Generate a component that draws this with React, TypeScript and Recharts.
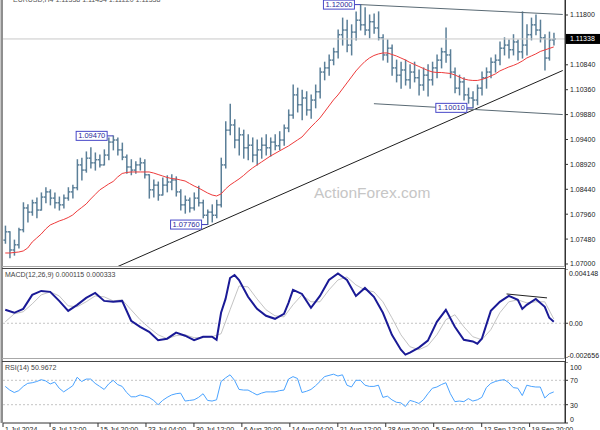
import React from "react";
import { ComposedChart, Bar, Line, XAxis, YAxis, ReferenceLine, ReferenceDot } from "recharts";

const FONT = '"Liberation Sans", Arial, sans-serif';

// ---- price bars (each bar = 12h, Jul 1 .. Sep 23 2024), EUR/USD ----
const OPEN = [
  1.0746, 1.0762, 1.0727, 1.0737, 1.0766, 1.0808, 1.08, 1.0818, 1.0804, 1.0829,
  1.0839, 1.0827, 1.0818, 1.0814, 1.0827, 1.0839, 1.0847, 1.0891, 1.0881, 1.0904,
  1.0895, 1.0901, 1.0891, 1.091, 1.0935, 1.0939, 1.092, 1.0906, 1.0887, 1.0881,
  1.0891, 1.0895, 1.0872, 1.0843, 1.0852, 1.0833, 1.0852, 1.0858, 1.0862, 1.0839,
  1.0814, 1.0823, 1.0808, 1.0827, 1.0818, 1.0794, 1.08, 1.0794, 1.0814, 1.0891,
  1.0958, 1.0968, 1.0939, 1.0949, 1.0924, 1.0929, 1.091, 1.092, 1.0929, 1.0924,
  1.0935, 1.0928, 1.0939, 1.0962, 1.0987, 1.1026, 1.1007, 1.102, 1.0997, 1.1016,
  1.1032, 1.107, 1.1078, 1.1093, 1.1109, 1.1142, 1.1151, 1.1122, 1.1147, 1.117,
  1.1161, 1.1151, 1.1167, 1.1155, 1.1136, 1.1103, 1.1116, 1.1078, 1.1064, 1.1074,
  1.1055, 1.107, 1.1059, 1.1045, 1.1064, 1.1055, 1.1078, 1.1093, 1.1109, 1.1103,
  1.107, 1.1039, 1.1051, 1.1026, 1.102, 1.1016, 1.1039, 1.1059, 1.107, 1.1089,
  1.1093, 1.1116, 1.1122, 1.1113, 1.1128, 1.1109, 1.1122, 1.1142, 1.1161, 1.1151,
  1.1136, 1.1097, 1.1132,
];
const HIGH = [
  1.0773, 1.0762, 1.0746, 1.0769, 1.0818, 1.0814, 1.0823, 1.0827, 1.0837, 1.0847,
  1.0843, 1.0837, 1.0829, 1.0833, 1.0847, 1.0852, 1.0901, 1.0904, 1.0916, 1.0924,
  1.0914, 1.091, 1.092, 1.0943, 1.0947, 1.0943, 1.0933, 1.091, 1.0901, 1.0897,
  1.0904, 1.0901, 1.0872, 1.0862, 1.0858, 1.0866, 1.087, 1.0872, 1.0868, 1.0843,
  1.0831, 1.0827, 1.0837, 1.085, 1.0823, 1.0804, 1.0814, 1.0823, 1.0904, 1.0974,
  1.1008, 1.0978, 1.0962, 1.0958, 1.0949, 1.0943, 1.0939, 1.0943, 1.0949, 1.0943,
  1.0949, 1.0955, 1.0968, 1.0997, 1.1045, 1.1039, 1.1035, 1.1032, 1.1026, 1.1045,
  1.1078, 1.1089, 1.1103, 1.1116, 1.1151, 1.1174, 1.117, 1.1161, 1.1186, 1.12,
  1.1194, 1.118, 1.1182, 1.1186, 1.1142, 1.1132, 1.1122, 1.1093, 1.1089, 1.1093,
  1.1084, 1.1089, 1.1074, 1.1078, 1.1084, 1.1089, 1.1103, 1.1116, 1.1155, 1.1113,
  1.1078, 1.1064, 1.1059, 1.1039, 1.1032, 1.1045, 1.107, 1.1078, 1.1097, 1.1103,
  1.1128, 1.1136, 1.1132, 1.1142, 1.1132, 1.1186, 1.1161, 1.1174, 1.118, 1.117,
  1.1142, 1.1147, 1.1145,
];
const LOW = [
  1.074, 1.0712, 1.0717, 1.0731, 1.0762, 1.0781, 1.0794, 1.0789, 1.0804, 1.0818,
  1.0814, 1.0808, 1.0804, 1.0808, 1.0823, 1.0827, 1.0843, 1.0862, 1.0877, 1.0885,
  1.0881, 1.0887, 1.0891, 1.0901, 1.092, 1.091, 1.0901, 1.0875, 1.0872, 1.0875,
  1.0881, 1.0866, 1.0827, 1.0829, 1.0823, 1.0833, 1.0839, 1.0843, 1.0831, 1.0804,
  1.0798, 1.08, 1.0804, 1.0812, 1.0789, 1.0776, 1.0781, 1.0789, 1.081, 1.0885,
  1.0949, 1.0924, 1.091, 1.0904, 1.0901, 1.0897, 1.0891, 1.0904, 1.091, 1.0908,
  1.092, 1.092, 1.0929, 1.0955, 1.0981, 1.0993, 1.0978, 1.0987, 1.0981, 1.1001,
  1.102, 1.1055, 1.1064, 1.1084, 1.1097, 1.1122, 1.1109, 1.1103, 1.1132, 1.1151,
  1.1142, 1.1136, 1.1145, 1.1132, 1.1093, 1.1089, 1.1064, 1.1051, 1.1039, 1.1045,
  1.1039, 1.1051, 1.1026, 1.1035, 1.1024, 1.1045, 1.1059, 1.1078, 1.1089, 1.1059,
  1.103, 1.1026, 1.1016, 1.101, 1.1001, 1.1007, 1.1026, 1.1039, 1.1059, 1.107,
  1.1084, 1.1103, 1.1097, 1.1103, 1.1093, 1.1097, 1.1103, 1.1132, 1.1142, 1.1128,
  1.1074, 1.1093, 1.1122,
];
const CLOSE = [
  1.0762, 1.0727, 1.0737, 1.0766, 1.0808, 1.08, 1.0818, 1.0804, 1.0829, 1.0839,
  1.0827, 1.0818, 1.0814, 1.0827, 1.0839, 1.0847, 1.0891, 1.0881, 1.0904, 1.0895,
  1.0901, 1.0891, 1.091, 1.0935, 1.0939, 1.092, 1.0906, 1.0887, 1.0881, 1.0891,
  1.0895, 1.0872, 1.0843, 1.0852, 1.0833, 1.0852, 1.0858, 1.0862, 1.0839, 1.0814,
  1.0823, 1.0808, 1.0827, 1.0818, 1.0794, 1.08, 1.0794, 1.0814, 1.0891, 1.0958,
  1.0968, 1.0939, 1.0949, 1.0924, 1.0929, 1.091, 1.092, 1.0929, 1.0924, 1.0935,
  1.0928, 1.0939, 1.0962, 1.0987, 1.1026, 1.1007, 1.102, 1.0997, 1.1016, 1.1032,
  1.107, 1.1078, 1.1093, 1.1109, 1.1142, 1.1151, 1.1122, 1.1147, 1.117, 1.1161,
  1.1151, 1.1167, 1.1155, 1.1136, 1.1103, 1.1116, 1.1078, 1.1064, 1.1074, 1.1055,
  1.107, 1.1059, 1.1045, 1.1064, 1.1055, 1.1078, 1.1093, 1.1109, 1.1103, 1.107,
  1.1039, 1.1051, 1.1026, 1.102, 1.1016, 1.1039, 1.1059, 1.107, 1.1089, 1.1093,
  1.1116, 1.1122, 1.1113, 1.1128, 1.1109, 1.1122, 1.1142, 1.1161, 1.1151, 1.1136,
  1.1097, 1.1132, 1.11338,
];
const MA = [
  1.07212, 1.07212, 1.07222, 1.07231, 1.07251, 1.07308, 1.07424, 1.07501, 1.07578, 1.07675,
  1.07752, 1.0779, 1.07829, 1.07858, 1.07896, 1.07945, 1.08022, 1.08089, 1.08157, 1.08253,
  1.0834, 1.08427, 1.08484, 1.08542, 1.08591, 1.08677, 1.08745, 1.08764, 1.08774, 1.08774,
  1.08774, 1.08774, 1.08774, 1.08754, 1.08725, 1.08697, 1.08668, 1.08648, 1.08639, 1.08619,
  1.086, 1.08552, 1.08504, 1.08465, 1.08417, 1.08369, 1.0833, 1.08311, 1.0835, 1.08446,
  1.08523, 1.08581, 1.08639, 1.08706, 1.08783, 1.08851, 1.08909, 1.08966, 1.09024, 1.09082,
  1.0913, 1.09179, 1.09227, 1.09275, 1.09333, 1.09391, 1.09448, 1.09545, 1.09641, 1.09728,
  1.09815, 1.0993, 1.10046, 1.10162, 1.10258, 1.10374, 1.1049, 1.10605, 1.10721, 1.10817,
  1.10904, 1.10971, 1.11019, 1.11049, 1.11068, 1.11068, 1.11039, 1.1101, 1.10971, 1.10933,
  1.10885, 1.10846, 1.10808, 1.10769, 1.10731, 1.10702, 1.10692, 1.10692, 1.10682, 1.10673,
  1.10644, 1.10605, 1.10567, 1.10547, 1.10538, 1.10538, 1.10557, 1.10586, 1.10625, 1.10663,
  1.10721, 1.1076, 1.10798, 1.10827, 1.10865, 1.10913, 1.10971, 1.1101, 1.11049, 1.11097,
  1.11126, 1.11155, 1.11184,
];
const RSI = [
  60, 54, 50, 53, 60, 65, 66, 68, 71, 69,
  64, 67, 57, 51, 56, 61, 75, 68, 72, 72,
  65, 60, 55, 64, 70, 63, 60, 50, 43, 43,
  46, 44, 42, 37, 30, 37, 42, 46, 48, 49,
  36, 37, 38, 42, 48, 37, 36, 38, 68, 74,
  79, 70, 55, 54, 54, 50, 46, 49, 51, 51,
  51, 53, 54, 72, 76, 73, 50, 52, 55, 61,
  68, 76, 78, 80, 77, 79, 62, 59, 70, 70,
  62, 60, 60, 62, 42, 44, 38, 34, 33, 27,
  37, 35, 32, 38, 48, 57, 59, 63, 66, 48,
  35, 36, 35, 40, 36, 38, 42, 58, 65, 68,
  70, 71, 66, 58, 57, 45, 62, 60, 59, 59,
  41, 48, 50.9672,
];
const MACD_IDX = [
  0, 2, 4, 6, 8, 10, 12, 14, 16, 18, 20, 22, 24, 26, 28, 30, 32, 34, 36, 38, 40, 42, 44, 46,
  47, 48, 49, 50, 51, 52, 54, 56, 58, 60, 62, 63, 64, 66, 68, 70, 72, 74, 76, 78, 80, 82, 84,
  86, 88, 89, 90, 92, 94, 96, 98, 100, 102, 104, 105, 106, 108, 110, 112, 114, 115, 116, 118,
  120, 121, 122,
];
const MACD_VAL = [
  0.00103, 0.0008, 0.0011, 0.00217, 0.00247, 0.0024, 0.00171, 0.00095, 0.00141, 0.00194,
  0.00232, 0.00171, 0.00164, 0.00171, 0.00019, -0.00027, -0.00065, -0.00129, -0.00118, -0.00072,
  -0.00095, -0.00129, -0.00103, -0.00103, -0.00126, 0.0008, 0.00186, 0.00346, 0.00369, 0.00331,
  0.00202, 0.0011, 0.00057, 0.00034, 0.00072, 0.00156, 0.00255, 0.00224, 0.00118, 0.00209,
  0.00331, 0.00381, 0.00331, 0.00209, 0.0027, 0.00202, 0.0008, -0.00088, -0.00202, -0.0024,
  -0.00224, -0.00186, -0.00133, 0.00011, 0.00103, -0.00027, -0.00126, -0.00139, -0.00156, -0.00118,
  0.00095, 0.00164, 0.00209, 0.00179, 0.0011, 0.00141, 0.00186, 0.00126, 0.00042, 0.000115,
];
const SIGNAL_IDX = [
  0, 2, 4, 6, 8, 10, 12, 14, 16, 18, 20, 22, 24, 26, 28, 30, 32, 34, 36, 38, 40, 42, 44, 46,
  48, 50, 52, 54, 56, 58, 60, 62, 64, 66, 68, 70, 72, 74, 76, 78, 80, 82, 84, 86, 88, 90, 92,
  94, 96, 98, 100, 102, 104, 106, 108, 110, 112, 114, 116, 118, 120, 122,
];
const SIGNAL_VAL = [
  0.00011, 0.00072, 0.00088, 0.00148, 0.00217, 0.0024, 0.00209, 0.00133, 0.00126, 0.00164,
  0.00209, 0.00202, 0.00171, 0.00179, 0.00103, 0.00027, -0.00034, -0.00088, -0.00118, -0.00095,
  -0.00088, -0.0011, -0.0011, -0.00103, -0.0008, 0.00103, 0.00285, 0.00278, 0.00186, 0.00103,
  0.00057, 0.00049, 0.00141, 0.00217, 0.00164, 0.00164, 0.00255, 0.00331, 0.00354, 0.00293,
  0.00255, 0.0024, 0.00164, 0.00042, -0.00088, -0.00179, -0.00202, -0.00171, -0.00088, 0.00027,
  0.00065, -0.00027, -0.00103, -0.00126, -0.00049, 0.0008, 0.00164, 0.00179, 0.00156, 0.00164,
  0.00164, 0.000333,
];

const TIME_TICK_POS = [-0.5, 9.97, 20.63, 31.3, 41.97, 52.63, 63.3, 73.97, 84.63, 95.3, 105.97, 116.63];
const TIME_TICK_LABELS = [
  "1 Jul 2024", "8 Jul 12:00", "15 Jul 20:00", "23 Jul 04:00", "30 Jul 12:00", "6 Aug 20:00",
  "14 Aug 04:00", "21 Aug 12:00", "28 Aug 20:00", "5 Sep 04:00", "12 Sep 12:00", "19 Sep 20:00",
];
const PRICE_TICKS = [1.07, 1.0748, 1.0796, 1.0844, 1.0892, 1.094, 1.0988, 1.1036, 1.1084, 1.118];
const PRICE_DOMAIN = [1.06942, 1.12089];
const CURRENT_PRICE = 1.11338;
const SWINGS = [
  { i: 24, price: 1.0947 },
  { i: 45, price: 1.0776 },
  { i: 79, price: 1.12 },
  { i: 104, price: 1.1001 },
];
const TRENDLINES = [
  { x1: 25, y1: 1.0695, x2: 124, y2: 1.1073, color: "#1e1e1e" },
  { x1: 79, y1: 1.12, x2: 124, y2: 1.1181, color: "#5a6a74" },
  { x1: 82, y1: 1.1009, x2: 124, y2: 1.0988, color: "#5a6a74" },
];
const MACD_DOMAIN = [-0.002656, 0.004148];
const MACD_TICKS = [0.004148, 0, -0.002656];
const MACD_TRENDLINE = { x1: 111.5, y1: 0.00224, x2: 120.5, y2: 0.00194 };
const RSI_TICKS = [0, 30, 70, 100];
const PAD_BARS = 2;
const X_DOMAIN = [-0.5, OPEN.length + PAD_BARS - 0.5];

const BAR_COLOR = "#5b7f98";

const priceData = [
  ...OPEN.map((o, i) => ({
    i,
    open: o,
    high: HIGH[i],
    low: LOW[i],
    close: CLOSE[i],
    hl: [LOW[i], HIGH[i]],
    ma: MA[i],
  })),
  ...Array.from({ length: PAD_BARS }, (_, k) => ({ i: OPEN.length + k })),
];

const macdMap = new Map<number, any>();
MACD_IDX.forEach((x, k) => macdMap.set(x, { ...(macdMap.get(x) || { i: x }), macd: MACD_VAL[k] }));
SIGNAL_IDX.forEach((x, k) => macdMap.set(x, { ...(macdMap.get(x) || { i: x }), signal: SIGNAL_VAL[k] }));
const macdData = Array.from(macdMap.values()).sort((a, b) => a.i - b.i);

const rsiData = RSI.map((v, i) => ({ i, rsi: v }));

const OhlcShape = (props: any) => {
  const { x, y, width, height, payload } = props;
  if (!payload || payload.high == null || !isFinite(y) || !isFinite(height)) return null;
  const top = Math.min(y, y + height);
  const h = Math.abs(height);
  const cx = x + width / 2;
  const range = payload.high - payload.low;
  const yo = range > 0 ? top + ((payload.high - payload.open) / range) * h : top;
  const yc = range > 0 ? top + ((payload.high - payload.close) / range) * h : top;
  return (
    <g stroke={BAR_COLOR} strokeWidth={1.5}>
      <line x1={cx} y1={top - 0.5} x2={cx} y2={top + h + 0.5} />
      <line x1={cx - 2} y1={yo} x2={cx} y2={yo} />
      <line x1={cx} y1={yc} x2={cx + 2} y2={yc} />
    </g>
  );
};

const PriceTick = (props: any) => {
  const { x, y, payload } = props;
  return (
    <text x={x} y={y} dy={2.5} fontSize={7} fill="#222" fontFamily={FONT} textAnchor="start">
      {Number(payload.value).toFixed(5)}
    </text>
  );
};

const MacdTick = (props: any) => {
  const { x, y, payload } = props;
  const v = payload.value;
  const dy = v === MACD_TICKS[0] ? 6.5 : v === MACD_TICKS[2] ? -0.5 : 2.5;
  const dx = v < 0 ? -2.5 : -1;
  const txt = v === 0 ? "0.00" : String(v);
  return (
    <text x={x + dx} y={y} dy={dy} fontSize={7} fill="#222" fontFamily={FONT} textAnchor="start">
      {txt}
    </text>
  );
};

const RsiTick = (props: any) => {
  const { x, y, payload } = props;
  const v = payload.value;
  const dy = v === 100 ? 7.5 : v === 0 ? -1.5 : 2.8;
  return (
    <text x={x} y={y} dy={dy} fontSize={7} fill="#222" fontFamily={FONT} textAnchor="start">
      {v}
    </text>
  );
};

const TimeTick = (props: any) => {
  const { x, y, payload } = props;
  const k = TIME_TICK_POS.indexOf(payload.value);
  return (
    <text x={x + 2} y={y + 5} fontSize={7} fill="#222" fontFamily={FONT} textAnchor="start">
      {TIME_TICK_LABELS[k]}
    </text>
  );
};

const CurrentPriceLabel = (props: any) => {
  const vb = props.viewBox || {};
  const right = (vb.x || 0) + (vb.width || 0);
  const y = vb.y || 0;
  return (
    <g>
      <rect x={right + 1} y={y - 5} width={34} height={10} fill="#000" />
      <text x={right + 5} y={y + 2.5} fill="#fff" fontSize={7} fontFamily={FONT}>
        {CURRENT_PRICE.toFixed(5)}
      </text>
    </g>
  );
};

const swingShape = (price: number) => (p: any) => {
  const { cx, cy } = p;
  if (!isFinite(cx) || !isFinite(cy)) return null;
  const right = cx - 6;
  const w = 31;
  return (
    <g>
      <line x1={right} y1={cy} x2={cx} y2={cy} stroke="#3a3ab8" strokeWidth={1} />
      <rect x={right - w} y={cy - 4.5} width={w} height={9} fill="#fff" stroke="#4848c8" strokeWidth={1} />
      <text x={right - w + 2} y={cy + 2.6} fontSize={7.5} fill="#2a2a9a" fontFamily={FONT}>
        {price.toFixed(5)}
      </text>
    </g>
  );
};

export default function App() {
  return (
    <div
      style={{
        position: "absolute",
        left: 0,
        top: 0,
        width: 600,
        height: 430,
        background: "#fff",
        overflow: "hidden",
        fontFamily: FONT,
      }}
    >
      <div
        style={{
          position: "absolute",
          left: 314,
          top: 185,
          fontSize: 15.5,
          lineHeight: 1,
          color: "#c6c6c6",
          fontFamily: FONT,
          whiteSpace: "nowrap",
        }}
      >
        ActionForex.com
      </div>

      <div style={{ position: "absolute", left: 0, top: 0 }}>
        <ComposedChart width={600} height={267} data={priceData} margin={{ top: 0, right: 0, bottom: 0, left: 3 }}>
          <XAxis dataKey="i" type="category" hide />
          <YAxis
            orientation="right"
            width={35}
            domain={PRICE_DOMAIN}
            allowDataOverflow
            ticks={PRICE_TICKS}
            interval={0}
            tick={<PriceTick />}
            tickSize={3}
            tickMargin={2}
            axisLine={{ stroke: "#333" }}
            tickLine={{ stroke: "#333" }}
          />
          <ReferenceLine y={CURRENT_PRICE} stroke="#c8c8c8" strokeWidth={1} label={<CurrentPriceLabel />} />
          <Bar dataKey="hl" shape={OhlcShape} isAnimationActive={false} />
          <Line
            dataKey="ma"
            stroke="#ee3b3b"
            strokeWidth={1}
            dot={false}
            activeDot={false}
            isAnimationActive={false}
          />
          {TRENDLINES.map((t, k) => (
            <ReferenceLine
              key={k}
              segment={[
                { x: t.x1, y: t.y1 },
                { x: t.x2, y: t.y2 },
              ]}
              stroke={t.color}
              strokeWidth={1}
              ifOverflow="visible"
            />
          ))}
          {SWINGS.map((s, k) => (
            <ReferenceDot key={k} x={s.i} y={s.price} r={0} ifOverflow="visible" shape={swingShape(s.price)} />
          ))}
        </ComposedChart>
      </div>

      <div style={{ position: "absolute", left: 0, top: 269 }}>
        <ComposedChart width={600} height={89} data={macdData} margin={{ top: 0, right: 0, bottom: 0, left: 3 }}>
          <XAxis dataKey="i" type="number" domain={X_DOMAIN} hide allowDataOverflow />
          <YAxis
            orientation="right"
            width={35}
            domain={MACD_DOMAIN}
            allowDataOverflow
            ticks={MACD_TICKS}
            interval={0}
            tick={<MacdTick />}
            tickSize={3}
            tickMargin={2}
            axisLine={{ stroke: "#333" }}
            tickLine={{ stroke: "#333" }}
          />
          <ReferenceLine y={0} stroke="#c4c4c4" strokeDasharray="2 2" />
          <Line
            dataKey="signal"
            stroke="#c4c4c4"
            strokeWidth={1}
            dot={false}
            activeDot={false}
            connectNulls
            isAnimationActive={false}
          />
          <Line
            dataKey="macd"
            stroke="#1a1a96"
            strokeWidth={2}
            dot={false}
            activeDot={false}
            connectNulls
            isAnimationActive={false}
          />
          <ReferenceLine
            segment={[
              { x: MACD_TRENDLINE.x1, y: MACD_TRENDLINE.y1 },
              { x: MACD_TRENDLINE.x2, y: MACD_TRENDLINE.y2 },
            ]}
            stroke="#222"
            strokeWidth={1}
            ifOverflow="visible"
          />
        </ComposedChart>
      </div>

      <div style={{ position: "absolute", left: 0, top: 362 }}>
        <ComposedChart width={600} height={68} data={rsiData} margin={{ top: 0, right: 0, bottom: 0, left: 3 }}>
          <XAxis
            dataKey="i"
            type="number"
            domain={X_DOMAIN}
            allowDataOverflow
            ticks={TIME_TICK_POS}
            interval={0}
            height={7}
            tick={<TimeTick />}
            tickSize={4}
            tickMargin={0}
            axisLine={{ stroke: "#333" }}
            tickLine={{ stroke: "#333" }}
          />
          <YAxis
            orientation="right"
            width={35}
            domain={[0, 100]}
            allowDataOverflow
            ticks={RSI_TICKS}
            interval={0}
            tick={<RsiTick />}
            tickSize={3}
            tickMargin={2}
            axisLine={{ stroke: "#333" }}
            tickLine={{ stroke: "#333" }}
          />
          <ReferenceLine y={70} stroke="#c4c4c4" strokeDasharray="2 2" />
          <ReferenceLine y={30} stroke="#c4c4c4" strokeDasharray="2 2" />
          <Line
            dataKey="rsi"
            stroke="#4aa3ff"
            strokeWidth={1}
            dot={false}
            activeDot={false}
            isAnimationActive={false}
          />
        </ComposedChart>
      </div>

      <svg
        width={600}
        height={430}
        style={{ position: "absolute", left: 0, top: 0, pointerEvents: "none" }}
      >
        <line x1={0.5} y1={0} x2={0.5} y2={423} stroke="#c8c8c8" />
        <line x1={2} y1={0} x2={2} y2={423} stroke="#6a6a6a" strokeWidth={1.5} />
        <line x1={2} y1={266.5} x2={565} y2={266.5} stroke="#a8a8a8" />
        <line x1={2} y1={268.5} x2={565} y2={268.5} stroke="#444" />
        <line x1={2} y1={358.5} x2={565} y2={358.5} stroke="#a8a8a8" />
        <line x1={2} y1={361.5} x2={565} y2={361.5} stroke="#444" />
        <line x1={565.5} y1={0} x2={565.5} y2={423} stroke="#333" />
        <text x={13} y={1.5} fontSize={7} fill="#555" fontFamily={FONT}>
          EURUSD,H4 1.11338 1.11454 1.11220 1.11338
        </text>
        <text x={5} y={277} fontSize={7} fill="#444" fontFamily={FONT}>
          MACD(12,26,9) 0.000115 0.000333
        </text>
        <text x={5} y={370} fontSize={7} fill="#444" fontFamily={FONT}>
          RSI(14) 50.9672
        </text>
      </svg>
    </div>
  );
}
